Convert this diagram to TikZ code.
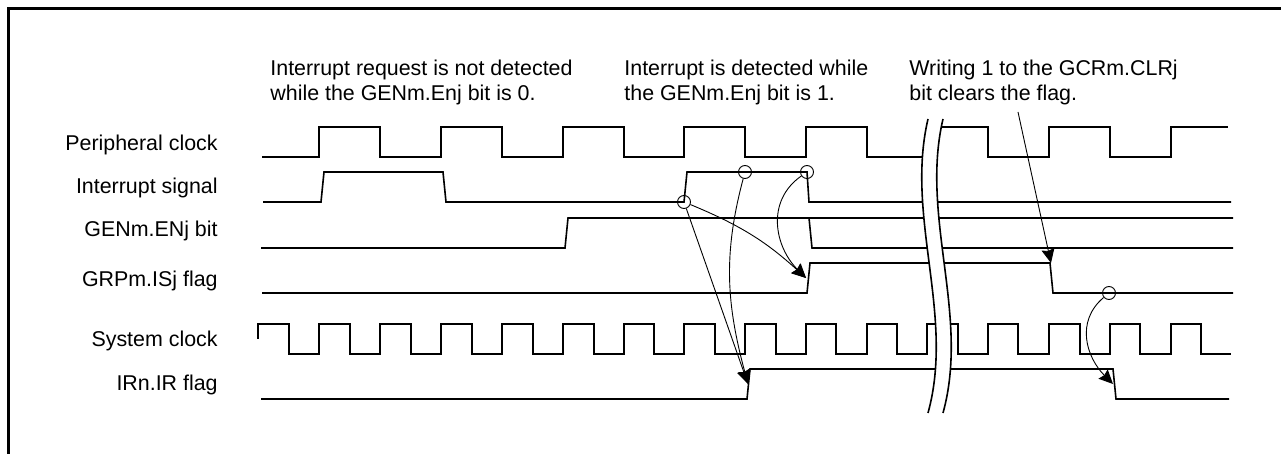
\documentclass[tikz,border=0pt]{standalone}
\usepackage{fontspec}
\setmainfont{Liberation Sans}
\usetikzlibrary{arrows.meta,positioning,calc}
\tikzset{
  signal label/.style={anchor=east,font=\fontsize{10.7}{12.5}\selectfont,inner sep=0pt},
  note label/.style={anchor=north west,align=left,font=\fontsize{10.7}{12.5}\selectfont,inner sep=0pt},
  wave/.style={line width=0.8pt,line join=miter},
  cause mark/.style={circle,draw,line width=0.45pt,minimum size=6.5pt,inner sep=0pt},
  cause arrow/.style={-{Stealth[length=7pt,width=6.5pt,inset=0.8pt]},line width=0.45pt},
  break line/.style={line width=0.8pt}
}
\begin{document}
\begin{tikzpicture}[x=0.5pt,y=-0.5pt]
  \useasboundingbox (0,0) rectangle (1281,454);
  % frame
  \draw[line width=1.5pt] (8,454) -- (8,9) -- (1281,9);
  % notes
  \node[note label] (noteA) at (270,60) {Interrupt request is not detected\\while the GENm.Enj bit is 0.};
  \node[note label] (noteB) at (624,60) {Interrupt is detected while\\the GENm.Enj bit is 1.};
  \node[note label] (noteC) at (909,60) {Writing 1 to the GCRm.CLRj\\bit clears the flag.};
  % signal names
  \node[signal label] (pclk) at (218,145) {Peripheral clock};
  \node[signal label] (intsig) at (218,188) {Interrupt signal};
  \node[signal label] (genbit) at (218,231) {GENm.ENj bit};
  \node[signal label] (grpflag) at (218,281) {GRPm.ISj flag};
  \node[signal label] (sclk) at (218,341) {System clock};
  \node[signal label] (irflag) at (218,385) {IRn.IR flag};
  % waveforms
  \draw[wave] (262,157) -- (319,157) -- (319,127) -- (380,127) -- (380,157) -- (441,157) -- (441,127) -- (502,127) -- (502,157) -- (563,157) -- (563,127) -- (624,127) -- (624,157) -- (684,157) -- (684,127) -- (745,127) -- (745,157) -- (806,157) -- (806,127) -- (867,127) -- (867,157) -- (927,157) -- (927,127) -- (988,127) -- (988,157) -- (1049,157) -- (1049,127) -- (1110,127) -- (1110,157) -- (1171,157) -- (1171,127) -- (1228,127);
  \draw[wave] (263,202) -- (321,202) -- (324,172) -- (443,172) -- (446,202) -- (684,202) -- (687,172) -- (807,172) -- (809,202) -- (1231,202);
  \draw[wave] (261,248) -- (565,248) -- (568,218) -- (1233,218);
  \draw[wave] (809,218) -- (812,248) -- (1233,248);
  \draw[wave] (262,293) -- (807,293) -- (810,263) -- (1050,263) -- (1053,293) -- (1233,293);
  \draw[wave] (258,339) -- (258,324) -- (289,324) -- (289,354) -- (319,354) -- (319,324) -- (350,324) -- (350,354) -- (380,354) -- (380,324) -- (411,324) -- (411,354) -- (441,354) -- (441,324) -- (472,324) -- (472,354) -- (502,354) -- (502,324) -- (533,324) -- (533,354) -- (563,354) -- (563,324) -- (594,324) -- (594,354) -- (624,354) -- (624,324) -- (654,324) -- (654,354) -- (684,354) -- (684,324) -- (715,324) -- (715,354) -- (745,354) -- (745,324) -- (776,324) -- (776,354) -- (806,354) -- (806,324) -- (836,324) -- (836,354) -- (867,354) -- (867,324) -- (897,324) -- (897,354) -- (927,354) -- (927,324) -- (958,324) -- (958,354) -- (988,354) -- (988,324) -- (1018,324) -- (1018,354) -- (1049,354) -- (1049,324) -- (1080,324) -- (1080,354) -- (1110,354) -- (1110,324) -- (1140,324) -- (1140,354) -- (1171,354) -- (1171,324) -- (1201,324) -- (1201,354) -- (1231,354);
  \draw[wave] (261,399) -- (747,399) -- (750,369) -- (1113,369) -- (1116,399) -- (1229,399);
  % break
  \fill[white] (928,119) .. controls (905,217) and (955,315) .. (928,413) -- (943,413) .. controls (970,315) and (920,217) .. (943,119) -- cycle;
  \draw[break line] (928,119) .. controls (905,217) and (955,315) .. (928,413);
  \draw[break line] (943,119) .. controls (920,217) and (970,315) .. (943,413);
  % cause and effect
  \node[cause mark] (risemark) at (684,202) {};
  \node[cause mark] (midmark) at (745,172) {};
  \node[cause mark] (fallmark) at (807,172) {};
  \node[cause mark] (clearmark) at (1109,293) {};
  \coordinate (grptip) at (806,278);
  \coordinate (irtip) at (748,384);
  \coordinate (cleartip) at (1051,263);
  \coordinate (irfalltip) at (1113,384);
  \coordinate (notefoot) at (1018,112);
  \draw[cause arrow] (risemark) to[bend left=10] (grptip);
  \draw[cause arrow] (risemark) -- (irtip);
  \draw[cause arrow] (midmark) to[out=255,in=105] (irtip);
  \draw[cause arrow] (fallmark) to[out=215,in=135,looseness=1.1] (grptip);
  \draw[cause arrow] (notefoot) -- (cleartip);
  \draw[cause arrow] (clearmark) to[out=220,in=135,looseness=1.1] (irfalltip);
\end{tikzpicture}
\end{document}
